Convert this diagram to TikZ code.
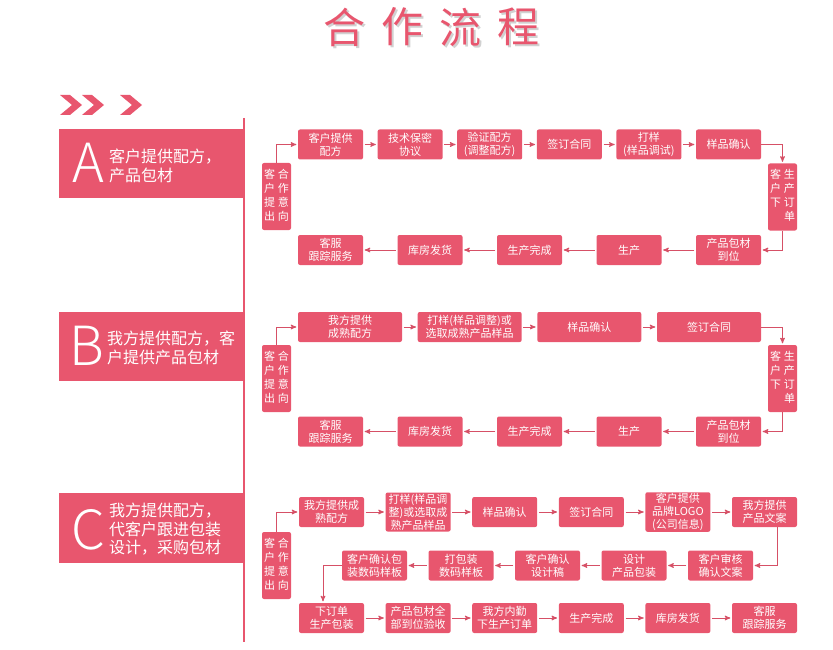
\documentclass[tikz,border=0pt]{standalone}
\usepackage{fontspec}
\newfontfamily\cjk{Noto Sans CJK SC}
\newfontfamily\cjklight{Noto Sans CJK SC Light}
\usepackage{tikz}
\usetikzlibrary{arrows, positioning, calc}
\definecolor{flowpink}{RGB}{232,86,110}
\definecolor{linkpink}{RGB}{214,80,102}
\tikzset{>=stealth', font=\cjk}
\tikzset{stepbox/.style={shape=rectangle, rounded corners=2pt, fill=flowpink,
    text=white, inner sep=1pt, align=center, minimum width=65pt,
    minimum height=30pt, font=\cjk\fontsize{11}{13}\selectfont}}
\tikzset{widebox/.style={stepbox, minimum width=104pt}}
\tikzset{tallbox/.style={stepbox, minimum height=39pt}}
\tikzset{sidebox/.style={stepbox, minimum width=29pt, minimum height=67pt,
    font=\cjk\fontsize{11}{14}\selectfont}}
\tikzset{link/.style={->, draw=linkpink, line width=1pt, shorten >=1.5pt}}
\tikzset{letter/.style={text=white, inner sep=0pt, font=\cjklight\fontsize{54}{54}\selectfont}}
\tikzset{bannertext/.style={text=white, inner sep=0pt, align=left, anchor=west,
    font=\cjk\fontsize{16}{18.5}\selectfont}}
\newcommand{\intentcol}{\begin{tabular}{@{}c@{\hspace{3pt}}c@{}}客&合\\户&作\\提&意\\出&向\end{tabular}}
\newcommand{\ordercol}{\begin{tabular}{@{}c@{\hspace{3pt}}c@{}}客&生\\户&产\\下&订\\&单\end{tabular}}

\begin{document}
\begin{tikzpicture}[x=1pt, y=-1pt]
  \useasboundingbox (0,0) rectangle (833,650);
  % title
  \foreach \ch [count=\i from 0] in {合,作,流,程} {
    \node[text=black!18, font=\cjk\fontsize{42}{42}\selectfont] at (346+58.3*\i,29) {\ch};
    \node[text=flowpink, font=\cjk\fontsize{42}{42}\selectfont] (title\i) at (344+58.3*\i,27) {\ch};
  }
  \foreach \x in {60,82,120}
    \fill[flowpink] (\x,95) -- ++(10,0) -- ++(12,10) -- ++(-12,10) -- ++(-10,0) -- ++(12,-10) -- cycle;
  \draw[flowpink, line width=1.2pt] (244,118) -- (244,642);

  %%%%%%%%% A
  \fill[flowpink] (59,129) rectangle (244,198);
  \node[letter] (letterA) at (88,163) {A};
  \node[bannertext] (textA) at (109,166) {客户提供配方，\\产品包材};
  \node[sidebox] (aL) at (276.5,196.5) {\intentcol};
  \node[stepbox] (aT1) at (330.5,144.5) {客户提供\\配方};
  \node[stepbox] (aT2) at (410.1,144.5) {技术保密\\协议};
  \node[stepbox] (aT3) at (489.7,144.5) {验证配方\\(调整配方)};
  \node[stepbox] (aT4) at (569.3,144.5) {签订合同};
  \node[stepbox] (aT5) at (648.9,144.5) {打样\\(样品调试)};
  \node[stepbox] (aT6) at (728.5,144.5) {样品确认};
  \node[sidebox] (aR) at (782.5,197) {\ordercol};
  \node[stepbox] (aB1) at (330.5,250) {客服\\跟踪服务};
  \node[stepbox] (aB2) at (430,250) {库房发货};
  \node[stepbox] (aB3) at (529.5,250) {生产完成};
  \node[stepbox] (aB4) at (629,250) {生产};
  \node[stepbox] (aB5) at (728.5,250) {产品包材\\到位};
  \draw[link] (aL.north) |- (aT1.west);
  \foreach \i [remember=\i as \j (initially 1)] in {2,...,6}
    \draw[link, shorten <=1.5pt] (aT\j) -- (aT\i);
  \draw[link] (aT6.east) -| (aR.north);
  \draw[link] (aR.south) |- (aB5.east);
  \foreach \i [remember=\i as \j (initially 5)] in {4,...,1}
    \draw[link, shorten <=1.5pt] (aB\j) -- (aB\i);

  %%%%%%%%% B
  \fill[flowpink] (59,312) rectangle (244,381);
  \node[letter] (letterB) at (87,346) {B};
  \node[bannertext] (textB) at (107,348) {我方提供配方，客\\户提供产品包材};
  \node[sidebox] (bL) at (276.5,378.5) {\intentcol};
  \node[widebox] (bT1) at (350,327) {我方提供\\成熟配方};
  \node[widebox] (bT2) at (469.7,327) {打样(样品调整)或\\选取成熟产品样品};
  \node[widebox] (bT3) at (589.3,327) {样品确认};
  \node[widebox] (bT4) at (709,327) {签订合同};
  \node[sidebox] (bR) at (782.5,378.5) {\ordercol};
  \node[stepbox] (bB1) at (330.5,431.5) {客服\\跟踪服务};
  \node[stepbox] (bB2) at (430,431.5) {库房发货};
  \node[stepbox] (bB3) at (529.5,431.5) {生产完成};
  \node[stepbox] (bB4) at (629,431.5) {生产};
  \node[stepbox] (bB5) at (728.5,431.5) {产品包材\\到位};
  \draw[link] (bL.north) |- (bT1.west);
  \foreach \i [remember=\i as \j (initially 1)] in {2,...,4}
    \draw[link, shorten <=1.5pt] (bT\j) -- (bT\i);
  \draw[link] (bT4.east) -| (bR.north);
  \draw[link] (bR.south) |- (bB5.east);
  \foreach \i [remember=\i as \j (initially 5)] in {4,...,1}
    \draw[link, shorten <=1.5pt] (bB\j) -- (bB\i);

  %%%%%%%%% C
  \fill[flowpink] (59,493) rectangle (244,563);
  \node[letter] (letterC) at (88,530) {C};
  \node[bannertext] (textC) at (109,529.5) {我方提供配方，\\代客户跟进包装\\设计，采购包材};
  \node[sidebox] (cL) at (276.5,565.5) {\intentcol};
  \node[stepbox] (cT1) at (331.5,512) {我方提供成\\熟配方};
  \node[tallbox] (cT2) at (418.1,512) {打样(样品调\\整)或选取成\\熟产品样品};
  \node[stepbox] (cT3) at (504.7,512) {样品确认};
  \node[stepbox] (cT4) at (591.3,512) {签订合同};
  \node[tallbox] (cT5) at (677.9,512) {客户提供\\品牌LOGO\\(公司信息)};
  \node[stepbox] (cT6) at (764.5,512) {我方提供\\产品文案};
  \node[stepbox] (cM1) at (374.5,565.5) {客户确认包\\装数码样板};
  \node[stepbox] (cM2) at (461,565.5) {打包装\\数码样板};
  \node[stepbox] (cM3) at (547.5,565.5) {客户确认\\设计稿};
  \node[stepbox] (cM4) at (634,565.5) {设计\\产品包装};
  \node[stepbox] (cM5) at (720.5,565.5) {客户审核\\确认文案};
  \node[stepbox] (cB1) at (331.5,618) {下订单\\生产包装};
  \node[stepbox] (cB2) at (418.1,618) {产品包材全\\部到位验收};
  \node[stepbox] (cB3) at (504.7,618) {我方内勤\\下生产订单};
  \node[stepbox] (cB4) at (591.3,618) {生产完成};
  \node[stepbox] (cB5) at (677.9,618) {库房发货};
  \node[stepbox] (cB6) at (764.5,618) {客服\\跟踪服务};
  \draw[link] (cL.north) |- (cT1.west);
  \foreach \i [remember=\i as \j (initially 1)] in {2,...,6}
    \draw[link, shorten <=1.5pt] (cT\j) -- (cT\i);
  \draw[link] ([xshift=12.5pt]cT6.south) |- (cM5.east);
  \foreach \i [remember=\i as \j (initially 5)] in {4,...,1}
    \draw[link, shorten <=1.5pt] (cM\j) -- (cM\i);
  \draw[link] (cM1.west) -| ([xshift=-8.5pt]cB1.north);
  \foreach \i [remember=\i as \j (initially 1)] in {2,...,6}
    \draw[link, shorten <=1.5pt] (cB\j) -- (cB\i);
\end{tikzpicture}
\end{document}
